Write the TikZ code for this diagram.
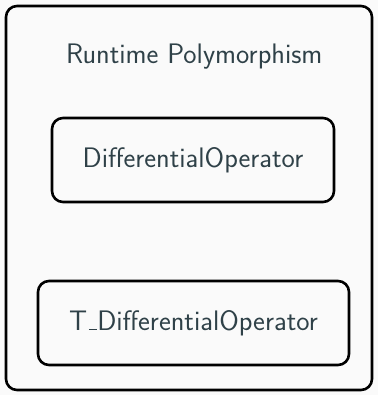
\documentclass[tikz,border=0pt]{standalone}
\definecolor{bg}{HTML}{FAFAFA}
\definecolor{txt}{HTML}{2F4148}
\newcommand\myusc{\leavevmode\kern.06em\vbox{\hrule width.3em height 1.4pt}}
\begin{document}
\begin{tikzpicture}[x=1bp,y=-1bp,
  frame/.style={draw=black,line width=2.6bp,rounded corners=11bp},
  lbl/.style={text=txt,font=\sffamily\fontsize{28.3}{32}\selectfont}]
\fill[bg] (0,0) rectangle (378,395);
\useasboundingbox (0,0) rectangle (378,395);
\draw[frame] (6,6) rectangle (372,390);
\node[lbl] (title) at (194.3,57) {Runtime Polymorphism};
\node[frame,lbl,minimum width=282bp,minimum height=84bp] (d) at (193,160) {DifferentialOperator};
\node[frame,lbl,minimum width=311bp,minimum height=84bp] (t) at (193.5,323) {T\myusc DifferentialOperator};
\end{tikzpicture}
\end{document}
